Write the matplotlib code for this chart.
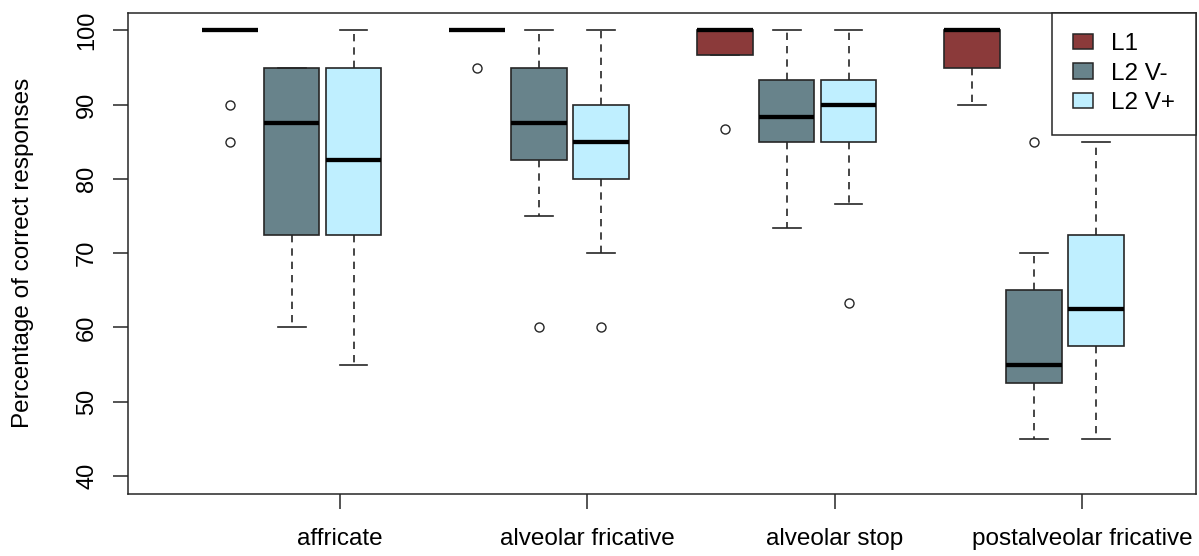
import matplotlib
matplotlib.use("Agg")
import matplotlib.pyplot as plt
from matplotlib.patches import Patch

plt.rcParams['font.family'] = ['Liberation Sans', 'DejaVu Sans']

categories = ["affricate", "alveolar fricative", "alveolar stop", "postalveolar fricative"]
groups = ["L1", "L2 V-", "L2 V+"]
colors = ["#8B3A3A", "#68838B", "#BFEFFF"]

# Five-number summaries per group, one entry per category
l1_lo = [100, 100, 96.67, 90]
l1_q1 = [100, 100, 96.67, 95]
l1_med = [100, 100, 100, 100]
l1_q3 = [100, 100, 100, 100]
l1_hi = [100, 100, 100, 100]
l1_out = [[90, 85], [95], [86.67], []]

l2m_lo = [60, 75, 73.33, 45]
l2m_q1 = [72.5, 82.5, 85, 52.5]
l2m_med = [87.5, 87.5, 88.33, 55]
l2m_q3 = [95, 95, 93.33, 65]
l2m_hi = [95, 100, 100, 70]
l2m_out = [[], [60], [], [85]]

l2p_lo = [55, 70, 76.67, 45]
l2p_q1 = [72.5, 80, 85, 57.5]
l2p_med = [82.5, 85, 90, 62.5]
l2p_q3 = [95, 90, 93.33, 72.5]
l2p_hi = [100, 100, 100, 85]
l2p_out = [[], [60], [63.33], []]

series = [
    (l1_lo, l1_q1, l1_med, l1_q3, l1_hi, l1_out),
    (l2m_lo, l2m_q1, l2m_med, l2m_q3, l2m_hi, l2m_out),
    (l2p_lo, l2p_q1, l2p_med, l2p_q3, l2p_hi, l2p_out),
]

ink = "#262626"
fs = 17.5

fig = plt.figure(figsize=(11.99, 5.56), dpi=100)
ax = fig.add_axes([0.1070, 0.1121, 0.8902, 0.8651])

for gi, (lo, q1, med, q3, hi, out) in enumerate(series):
    stats = []
    positions = []
    for ci in range(len(categories)):
        stats.append(dict(whislo=lo[ci], q1=q1[ci], med=med[ci], q3=q3[ci],
                          whishi=hi[ci], fliers=out[ci]))
        positions.append(1 + 4 * ci + gi)
    ax.bxp(stats, positions=positions, widths=0.9, patch_artist=True,
           showfliers=True,
           boxprops=dict(facecolor=colors[gi], edgecolor=ink, linewidth=1.2),
           medianprops=dict(color="black", linewidth=3.1, solid_capstyle="butt"),
           whiskerprops=dict(color=ink, linewidth=1.2, linestyle=(0, (4.4, 3.6))),
           capprops=dict(color=ink, linewidth=1.2),
           capwidths=0.45,
           flierprops=dict(marker="o", markersize=6.5, markerfacecolor="none",
                           markeredgecolor=ink, markeredgewidth=1.0))

ax.set_xlim(-0.64, 16.61)
ax.set_ylim(37.6, 102.4)
ax.set_yticks([40, 50, 60, 70, 80, 90, 100])
ax.set_yticklabels(["40", "50", "60", "70", "80", "90", "100"], rotation=90, va="center")
ax.set_xticks([2.78 + 4 * i for i in range(len(categories))])
ax.set_xticklabels(categories)
ax.tick_params(axis="y", direction="out", length=10.8, width=1.1, pad=11, labelsize=17,
               color=ink, labelcolor="black")
ax.tick_params(axis="x", direction="out", length=10.5, width=1.1, pad=14, labelsize=fs,
               color=ink, labelcolor="black")
for s in ax.spines.values():
    s.set_linewidth(1.1)
    s.set_color(ink)
ax.set_ylabel("Percentage of correct responses", fontsize=fs, va="center")
ax.yaxis.set_label_coords(-0.0987, 0.5)

handles = [Patch(facecolor=c, edgecolor=ink, linewidth=1.1) for c in colors]
leg = ax.legend(handles, groups, loc="upper right", borderaxespad=0, fontsize=fs,
                fancybox=False, framealpha=1, edgecolor=ink,
                handlelength=0.82, handleheight=0.6, handletextpad=0.74,
                borderpad=0.85, labelspacing=0.3)
leg.get_frame().set_linewidth(1.1)

fig.savefig("out.png", dpi=100)
